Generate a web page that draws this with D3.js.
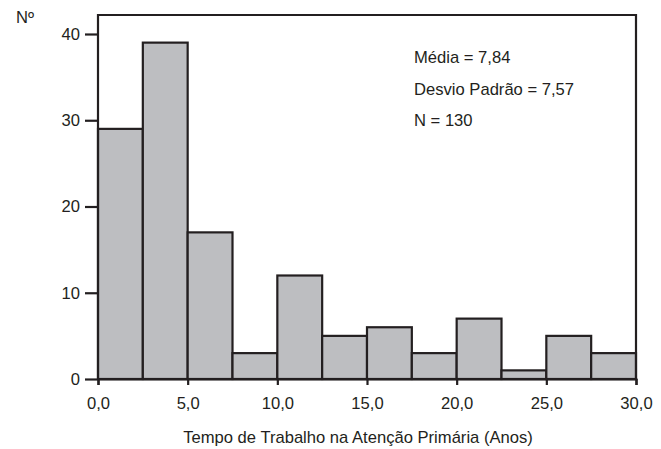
<!DOCTYPE html>
<html><head><meta charset="utf-8">
<script src="https://cdn.jsdelivr.net/npm/d3@7"></script>
<style>body{margin:0;background:#fff}svg text{font-family:"Liberation Sans",Arial,sans-serif;fill:#231f20}</style>
</head><body><svg id="c" width="661" height="449"></svg>
<script>
const binStarts = [0, 2.5, 5, 7.5, 10, 12.5, 15, 17.5, 20, 22.5, 25, 27.5];
const binWidth = 2.5;
const counts = [29, 39, 17, 3, 12, 5, 6, 3, 7, 1, 5, 3];
const xTicks = [0, 5, 10, 15, 20, 25, 30];
const yTicks = [0, 10, 20, 30, 40];
const stats = ["Média = 7,84", "Desvio Padrão = 7,57", "N = 130"];
const xLabel = "Tempo de Trabalho na Atenção Primária (Anos)";
const yLabel = "Nº";

const svg = d3.select("#c");
const x = d3.scaleLinear().domain([0, 30]).range([98, 636]);
const y = d3.scaleLinear().domain([0, 40]).range([379, 34]);
const frameTop = 15;
const ink = "#231f20";
const fs = 16.6;

// bars
svg.append("g").selectAll("rect").data(binStarts).join("rect")
  .attr("x", (d) => x(d))
  .attr("width", (d) => x(d + binWidth) - x(d))
  .attr("y", (d, i) => y(counts[i]))
  .attr("height", (d, i) => y(0) - y(counts[i]))
  .attr("fill", "#bdbec1").attr("stroke", ink).attr("stroke-width", 2.2);

// frame
svg.append("path")
  .attr("d", `M${x(0)},${y(0)}V${frameTop}H${x(30)}V${y(0)}`)
  .attr("fill", "none").attr("stroke", ink).attr("stroke-width", 2.2);

// x axis
const xa = svg.append("g").attr("transform", `translate(0,${y(0)})`)
  .call(d3.axisBottom(x).tickValues(xTicks).tickSize(6).tickPadding(12)
    .tickFormat(d => d3.format(".1f")(d).replace(".", ",")));
xa.select(".domain").attr("stroke", ink).attr("stroke-width", 2.2);
xa.selectAll(".tick line").attr("stroke", ink).attr("stroke-width", 2.2);
xa.selectAll("text").attr("font-size", fs).attr("fill", ink);

// y axis
const ya = svg.append("g").attr("transform", `translate(${x(0)},0)`)
  .call(d3.axisLeft(y).tickValues(yTicks).tickSize(13).tickPadding(5));
ya.select(".domain").remove();
ya.selectAll(".tick line").attr("stroke", ink).attr("stroke-width", 2.2);
ya.selectAll("text").attr("font-size", fs).attr("fill", ink);

svg.append("text").attr("x", 16).attr("y", 23).attr("font-size", fs).text(yLabel);
svg.append("text").attr("x", 358).attr("y", 443)
  .attr("text-anchor", "middle").attr("font-size", fs).text(xLabel);

svg.append("g").selectAll("text").data(stats).join("text")
  .attr("x", 414).attr("y", (d, i) => 63 + i * 31.5)
  .attr("font-size", fs).text(d => d);
</script></body></html>
